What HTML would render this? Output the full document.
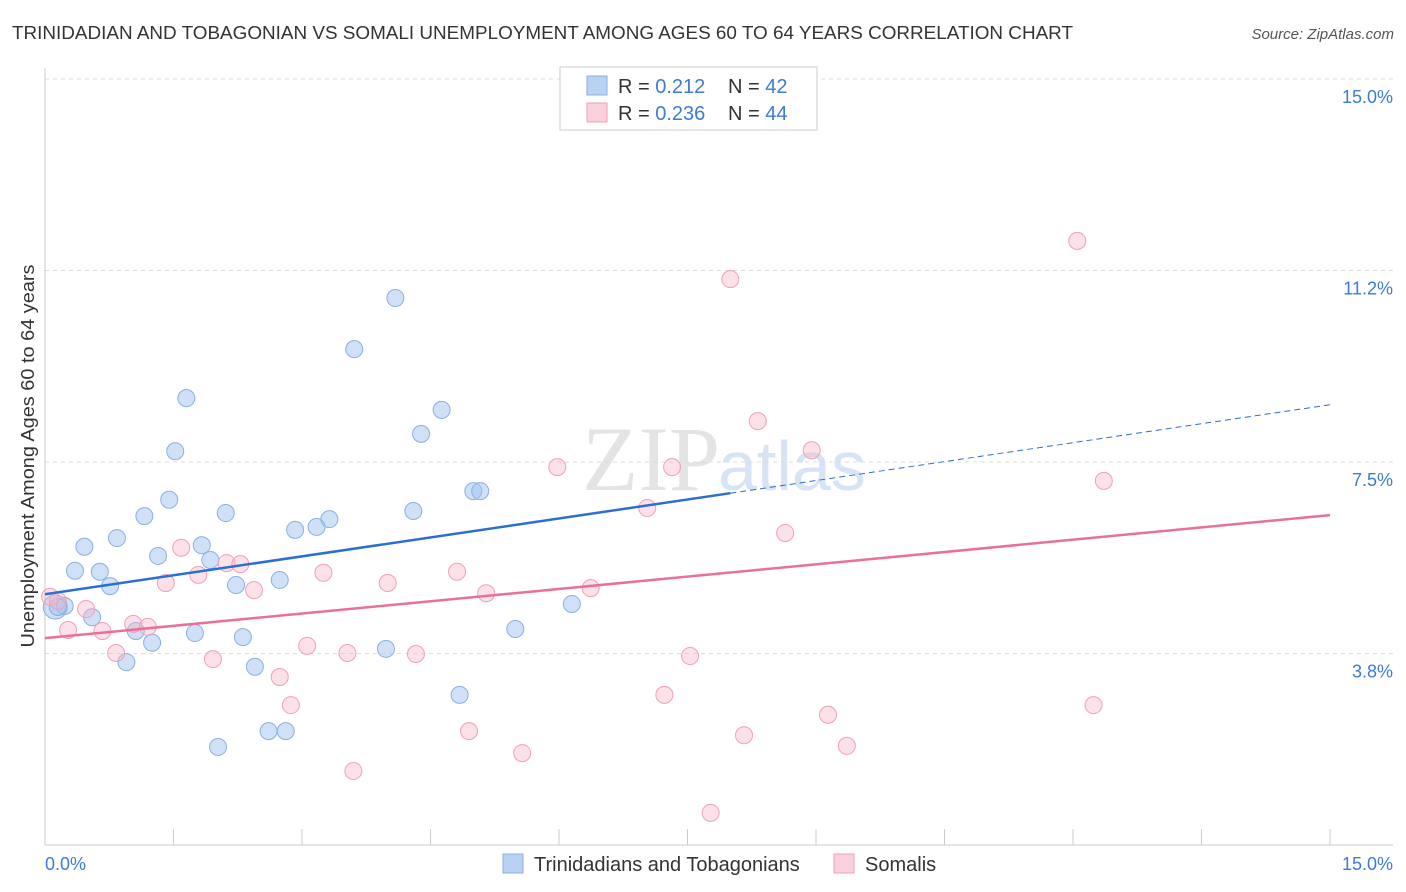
<!DOCTYPE html>
<html><head><meta charset="utf-8"><style>
body{margin:0;background:#fff;font-family:"Liberation Sans",sans-serif;}
#wrap{position:relative;width:1406px;height:892px;overflow:hidden;}
</style></head><body>
<div id="wrap">
<svg id="svg" width="1406" height="892" xmlns="http://www.w3.org/2000/svg">
<text x="12" y="39" font-size="18" fill="#333" textLength="1061" lengthAdjust="spacingAndGlyphs">TRINIDADIAN AND TOBAGONIAN VS SOMALI UNEMPLOYMENT AMONG AGES 60 TO 64 YEARS CORRELATION CHART</text>
<text x="1394" y="39" font-size="15" fill="#555" font-style="italic" text-anchor="end">Source: ZipAtlas.com</text>
<text x="720" y="490" font-size="92" fill="#e4e4e4" text-anchor="end" font-family="Liberation Serif">ZIP</text>
<text x="718" y="490" font-size="70" fill="#d6e4f5">atlas</text>
<g id="grid"></g>
<line x1="45" y1="68" x2="45" y2="845" stroke="#ccc"/>
<line x1="45" y1="845" x2="1393" y2="845" stroke="#ccc"/>
<text x="34" y="456" font-size="18" fill="#333" text-anchor="middle" textLength="383" lengthAdjust="spacingAndGlyphs" transform="rotate(-90 34 456)">Unemployment Among Ages 60 to 64 years</text>
<text x="45" y="870" font-size="18" fill="#3d7bd6">0.0%</text>
<text x="1393" y="870" font-size="18" fill="#3d7bd6" text-anchor="end">15.0%</text>
<g id="marks"></g>
<g>
<rect x="560" y="67" width="257" height="63" fill="#fff" stroke="#ccc"/>
<rect x="587" y="76" width="20" height="19" fill="#b8d2f4" stroke="#8ab0e0"/>
<rect x="587" y="103" width="20" height="19" fill="#fad0dc" stroke="#f0a0b8"/>
<text x="618" y="93" font-size="20" fill="#333">R = <tspan fill="#3d7bd6">0.212</tspan></text>
<text x="728" y="93" font-size="20" fill="#333">N = <tspan fill="#3d7bd6">42</tspan></text>
<text x="618" y="120" font-size="20" fill="#333">R = <tspan fill="#3d7bd6">0.236</tspan></text>
<text x="728" y="120" font-size="20" fill="#333">N = <tspan fill="#3d7bd6">44</tspan></text>
</g>
<g>
<rect x="503" y="854" width="20" height="19" fill="#b8d2f4" stroke="#8ab0e0"/>
<text x="534" y="871" font-size="20" fill="#333">Trinidadians and Tobagonians</text>
<rect x="834" y="854" width="20" height="19" fill="#fad0dc" stroke="#f0a0b8"/>
<text x="865" y="871" font-size="20" fill="#333">Somalis</text>
</g>
</svg>
</div>
<script>
const yTicks=[3.75,7.5,11.25,15];
const yTickLabels=["3.8%","7.5%","11.2%","15.0%"];
const xTicks=[0,1.5,3,4.5,6,7.5,9,10.5,12,13.5,15];
const blueX=[0.12,0.23,0.15,0.55,0.35,0.46,0.64,0.76,0.84,0.95,1.06,1.16,1.25,1.32,1.45,1.52,1.65,1.75,1.83,1.93,2.02,2.11,2.23,2.31,2.45,2.61,2.74,2.81,2.92,3.17,3.32,3.61,3.98,4.09,4.30,4.39,4.63,4.84,5.00,5.08,5.49,6.15];
const blueY=[4.66,4.68,4.66,4.46,5.37,5.84,5.35,5.07,6.01,3.58,4.19,6.44,3.96,5.66,6.76,7.71,8.75,4.15,5.87,5.58,1.92,6.50,5.09,4.07,3.49,2.23,5.19,2.23,6.17,6.23,6.38,9.71,3.84,10.71,6.54,8.05,8.52,2.94,6.93,6.93,4.23,4.72];
const pinkX=[0.06,0.15,0.27,0.48,0.67,0.83,1.03,1.20,1.41,1.59,1.79,1.96,2.12,2.28,2.44,2.74,2.87,3.06,3.25,3.53,3.60,4.00,4.33,4.81,4.95,5.15,5.57,5.98,6.37,7.03,7.23,7.32,7.53,7.77,8.00,8.16,8.32,8.64,8.95,9.14,9.36,12.05,12.24,12.36];
const pinkY=[4.86,4.78,4.21,4.62,4.19,3.76,4.33,4.27,5.13,5.82,5.29,3.64,5.52,5.50,4.99,3.29,2.74,3.90,5.33,3.76,1.45,5.13,3.74,5.35,2.23,4.93,1.80,7.40,5.03,6.60,2.94,7.40,3.70,0.63,11.08,2.15,8.30,6.11,7.73,2.55,1.94,11.83,2.74,7.13];
const blueTrend=[4.91,8.62];
const pinkTrend=[4.05,6.46];
const blueSolidEnd=8.0;
const NS="http://www.w3.org/2000/svg";
const xs=v=>45+v*(1285/15);
const ys=v=>845-v*51.07;
function mk(t,a,p){const e=document.createElementNS(NS,t);for(const k in a)e.setAttribute(k,a[k]);p.appendChild(e);return e;}
const grid=document.getElementById('grid');
yTicks.forEach((v,i)=>{
  const l=mk('line',{x1:45,x2:1393,y1:ys(v),y2:ys(v),stroke:'#ddd','stroke-dasharray':'4,4'},grid);
  
  
  const t=mk('text',{x:1393,y:ys(v)+24,'font-size':18,fill:'#3d7bd6','text-anchor':'end'},grid);
  t.textContent=yTickLabels[i];
  
  
});
xTicks.forEach(v=>{
  const l=mk('line',{x1:xs(v),x2:xs(v),y1:829,y2:845,stroke:'#ccc'},grid);
  
  
});
const marks=document.getElementById('marks');
blueX.forEach((x,i)=>{
  const c=mk('circle',{cx:xs(x),cy:ys(blueY[i]),r:i==0?12:8.5,fill:'rgba(160,196,240,0.5)',stroke:'#8ab0e0','stroke-width':1},marks);
  
  
});
pinkX.forEach((x,i)=>{
  const c=mk('circle',{cx:xs(x),cy:ys(pinkY[i]),r:8.5,fill:'rgba(248,180,200,0.4)',stroke:'#f0a0b8','stroke-width':1},marks);
  
  
});
const bAt=v=>blueTrend[0]+(blueTrend[1]-blueTrend[0])*v/15;
let l1=mk('line',{x1:xs(0),y1:ys(bAt(0)),x2:xs(blueSolidEnd),y2:ys(bAt(blueSolidEnd)),stroke:'#2a6fd1','stroke-width':2.5},marks);


let l2=mk('line',{x1:xs(blueSolidEnd),y1:ys(bAt(blueSolidEnd)),x2:xs(15),y2:ys(bAt(15)),stroke:'#2a6fd1','stroke-width':1,'stroke-dasharray':'6,4'},marks);


let l3=mk('line',{x1:xs(0),y1:ys(pinkTrend[0]),x2:xs(15),y2:ys(pinkTrend[1]),stroke:'#e8709a','stroke-width':2.5},marks);


</script>
</body></html>
